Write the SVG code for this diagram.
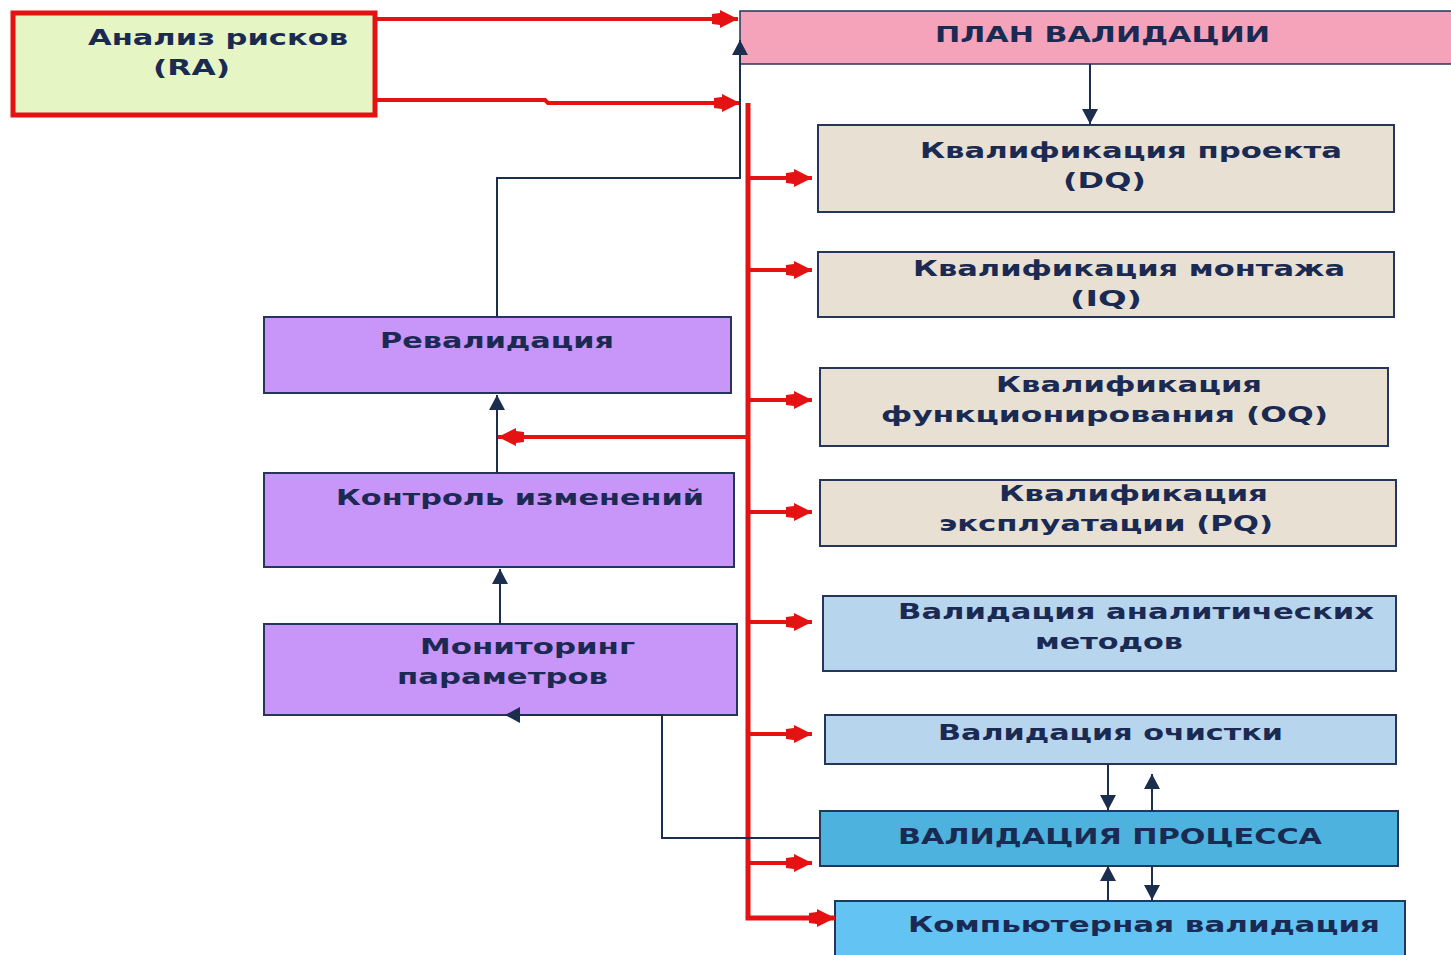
<svg xmlns="http://www.w3.org/2000/svg" width="1451" height="955" viewBox="0 0 1451 955">
<style>
.box{stroke:#26365a;stroke-width:2}
.t{font-family:"DejaVu Sans",Verdana,sans-serif;font-weight:bold;font-size:21px;fill:#1a2a52}
.red{fill:none;stroke:#e41212;stroke-width:4}
.bus{fill:none;stroke:#e41212;stroke-width:5}
.nv{fill:none;stroke:#1c2e4e;stroke-width:2}
</style>
<defs>
<marker id="ra" markerUnits="userSpaceOnUse" markerWidth="30" markerHeight="20" refX="26" refY="10" orient="auto">
<path d="M0,5 L8,4 L8,1 L26,10 L8,19 L8,16 L0,15 Z" fill="#e41212"/>
</marker>
<marker id="na" markerUnits="userSpaceOnUse" markerWidth="18" markerHeight="18" refX="15" refY="8" orient="auto">
<path d="M0,0 L15,8 L0,16 Z" fill="#1c2e4e"/>
</marker>
</defs>
<rect width="1451" height="955" fill="#ffffff"/>

<g id="ra-node">
<rect x="13" y="13" width="362" height="102" fill="#e6f5c4" stroke="#e41212" stroke-width="5"/>
<text class="t" x="88" y="45" textLength="260" lengthAdjust="spacingAndGlyphs">Анализ рисков</text>
<text class="t" x="153" y="75" textLength="77" lengthAdjust="spacingAndGlyphs">(RA)</text>
</g>

<g id="plan">
<rect x="740" y="11" width="720" height="53" fill="#f5a3bb" stroke="#26365a" stroke-width="1.5"/>
<text class="t" x="935" y="42" textLength="335" lengthAdjust="spacingAndGlyphs">ПЛАН ВАЛИДАЦИИ</text>
</g>

<g id="dq">
<rect class="box" x="818" y="125" width="576" height="87" fill="#e8e0d2"/>
<text class="t" x="920" y="158" textLength="422" lengthAdjust="spacingAndGlyphs">Квалификация проекта</text>
<text class="t" x="1063" y="188" textLength="83" lengthAdjust="spacingAndGlyphs">(DQ)</text>
</g>

<g id="iq">
<rect class="box" x="818" y="252" width="576" height="65" fill="#e8e0d2"/>
<text class="t" x="913" y="276" textLength="432" lengthAdjust="spacingAndGlyphs">Квалификация монтажа</text>
<text class="t" x="1070" y="306" textLength="72" lengthAdjust="spacingAndGlyphs">(IQ)</text>
</g>

<g id="oq">
<rect class="box" x="820" y="368" width="568" height="78" fill="#e8e0d2"/>
<text class="t" x="996" y="392" textLength="266" lengthAdjust="spacingAndGlyphs">Квалификация</text>
<text class="t" x="881" y="422" textLength="447" lengthAdjust="spacingAndGlyphs">функционирования (OQ)</text>
</g>

<g id="pq">
<rect class="box" x="820" y="480" width="576" height="66" fill="#e8e0d2"/>
<text class="t" x="999" y="501" textLength="269" lengthAdjust="spacingAndGlyphs">Квалификация</text>
<text class="t" x="939" y="531" textLength="334" lengthAdjust="spacingAndGlyphs">эксплуатации (PQ)</text>
</g>

<g id="methods">
<rect class="box" x="823" y="596" width="573" height="75" fill="#b8d5ee"/>
<text class="t" x="898" y="619" textLength="476" lengthAdjust="spacingAndGlyphs">Валидация аналитических</text>
<text class="t" x="1035" y="649" textLength="148" lengthAdjust="spacingAndGlyphs">методов</text>
</g>

<g id="cleaning">
<rect class="box" x="825" y="715" width="571" height="49" fill="#b8d5ee"/>
<text class="t" x="938" y="740" textLength="345" lengthAdjust="spacingAndGlyphs">Валидация очистки</text>
</g>

<g id="process">
<rect class="box" x="820" y="811" width="578" height="55" fill="#4db3de"/>
<text class="t" x="898" y="844" textLength="424" lengthAdjust="spacingAndGlyphs">ВАЛИДАЦИЯ ПРОЦЕССА</text>
</g>

<g id="computer">
<rect class="box" x="835" y="901" width="570" height="60" fill="#63c3f3"/>
<text class="t" x="908" y="932" textLength="472" lengthAdjust="spacingAndGlyphs">Компьютерная валидация</text>
</g>

<g id="revalidation">
<rect class="box" x="264" y="317" width="467" height="76" fill="#c895f8"/>
<text class="t" x="380" y="348" textLength="234" lengthAdjust="spacingAndGlyphs">Ревалидация</text>
</g>

<g id="change-control">
<rect class="box" x="264" y="473" width="470" height="94" fill="#c895f8"/>
<text class="t" x="336" y="505" textLength="368" lengthAdjust="spacingAndGlyphs">Контроль изменений</text>
</g>

<g id="monitoring">
<rect class="box" x="264" y="624" width="473" height="91" fill="#c895f8"/>
<text class="t" x="420" y="654" textLength="215" lengthAdjust="spacingAndGlyphs">Мониторинг</text>
<text class="t" x="397" y="684" textLength="211" lengthAdjust="spacingAndGlyphs">параметров</text>
</g>

<g id="connectors">
<path class="red" d="M376,19 H738" marker-end="url(#ra)"/>
<path class="red" d="M376,100 H545 L548,103 H740" marker-end="url(#ra)"/>
<path class="bus" d="M748,103 V918 H835" marker-end="url(#ra)"/>
<path class="red" d="M748,178 H812" marker-end="url(#ra)"/>
<path class="red" d="M748,270 H812" marker-end="url(#ra)"/>
<path class="red" d="M748,400 H812" marker-end="url(#ra)"/>
<path class="red" d="M748,512 H812" marker-end="url(#ra)"/>
<path class="red" d="M748,622 H812" marker-end="url(#ra)"/>
<path class="red" d="M748,734 H812" marker-end="url(#ra)"/>
<path class="red" d="M748,863 H812" marker-end="url(#ra)"/>
<path class="red" d="M748,437 H498" marker-end="url(#ra)"/>
<path class="nv" d="M497,317 V178 H740 V40" marker-end="url(#na)"/>
<path class="nv" d="M1090,64 V124" marker-end="url(#na)"/>
<path class="nv" d="M497,473 V395" marker-end="url(#na)"/>
<path class="nv" d="M500,624 V569" marker-end="url(#na)"/>
<path class="nv" d="M820,838 H662 V715 H505" marker-end="url(#na)"/>
<path class="nv" d="M1108,764 V810" marker-end="url(#na)"/>
<path class="nv" d="M1152,811 V774" marker-end="url(#na)"/>
<path class="nv" d="M1108,901 V866" marker-end="url(#na)"/>
<path class="nv" d="M1152,866 V900" marker-end="url(#na)"/>
</g>
</svg>
